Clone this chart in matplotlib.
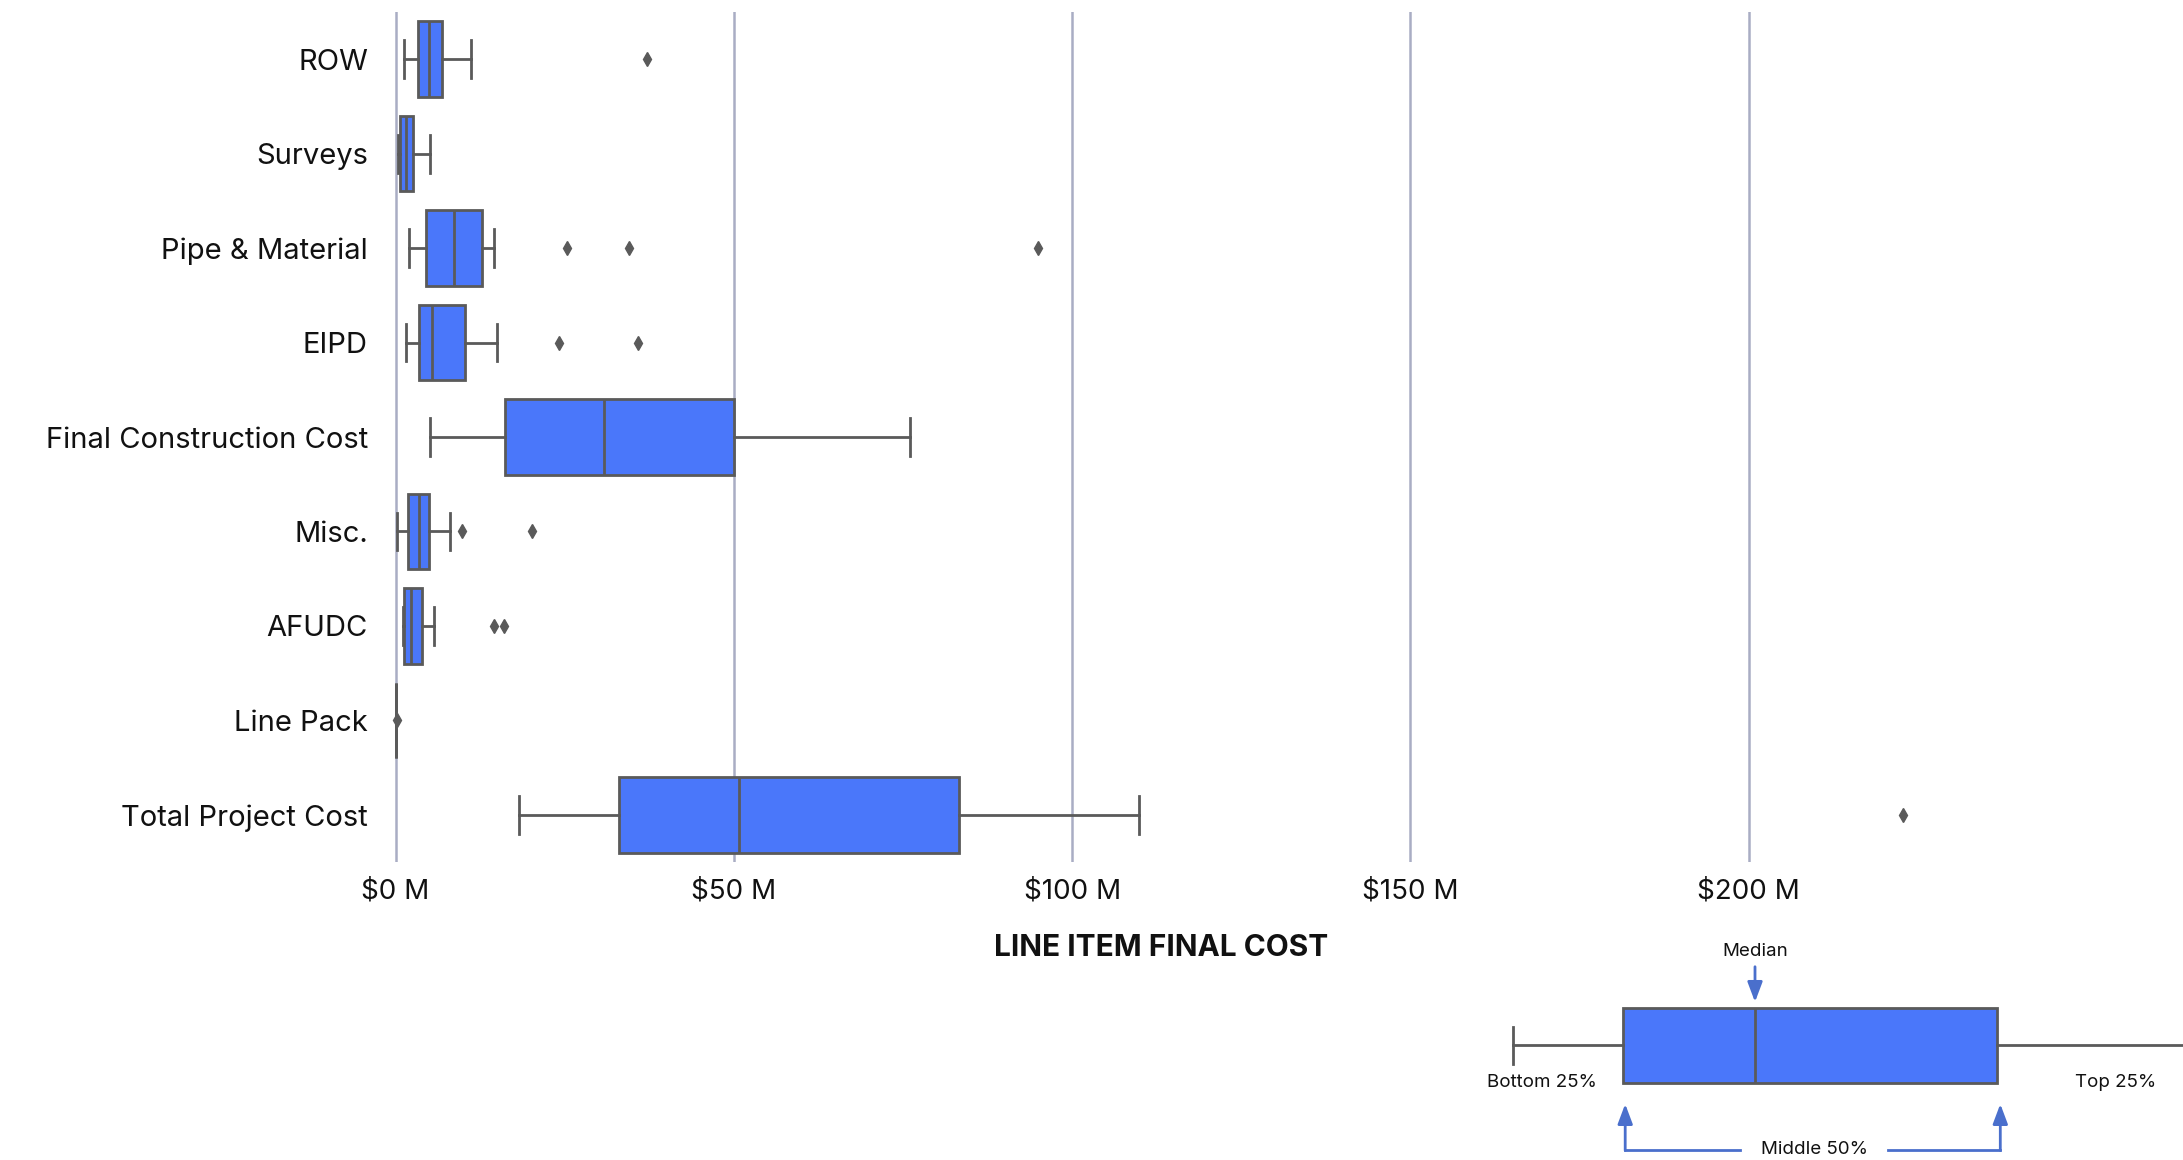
import matplotlib
matplotlib.use("Agg")
import matplotlib.pyplot as plt

plt.rcParams['font.family'] = ['Inter', 'DejaVu Sans']

# ---- data (values in $ millions) ----
categories = ["ROW", "Surveys", "Pipe & Material", "EIPD", "Final Construction Cost",
              "Misc.", "AFUDC", "Line Pack", "Total Project Cost"]
whisker_low = [1.3, 0.3, 2.0, 1.6, 5.1, 0.15, 1.05, 0.0, 18.3]
q1_values = [3.3, 0.6, 4.5, 3.4, 16.2, 1.8, 1.3, 0.0, 33.1]
median_values = [4.9, 1.6, 8.6, 5.4, 30.8, 3.4, 2.3, 0.0, 50.8]
q3_values = [6.9, 2.6, 12.8, 10.2, 50.0, 5.0, 3.9, 0.0, 83.3]
whisker_high = [11.1, 5.1, 14.6, 15.0, 76.1, 8.0, 5.7, 0.0, 109.9]
outliers = [[37.2], [], [25.3, 34.5, 94.9], [24.1, 35.8], [], [9.9, 20.2],
            [14.5, 16.0], [0.15], [222.8]]
tick_values = [0, 50, 100, 150, 200]
tick_labels = ["$0 M", "$50 M", "$100 M", "$150 M", "$200 M"]
x_label = "LINE ITEM FINAL COST"

# legend example box (arbitrary units)
legend_example = dict(whislo=0.0, q1=1.0, med=2.2, q3=4.4, whishi=7.0, fliers=[])

BOX_BLUE = "#4a77fa"
LINE_GRAY = "#5a5a5a"
GRID = "#a9adc4"
ARROW_BLUE = "#4a6fcc"
TEXT = "#111111"

W, H = 2183, 1160
fig = plt.figure(figsize=(W / 100, H / 100), dpi=100)

xmin, xmax = -1.2, 227.5
x_left = 395.5 + xmin * 6.766
x_right = 395.5 + xmax * 6.766
ax = fig.add_axes([x_left / W, 1 - 862 / H, (x_right - x_left) / W, (862 - 12) / H])

stats = []
for i, name in enumerate(categories):
    stats.append(dict(label=name, whislo=whisker_low[i], q1=q1_values[i], med=median_values[i],
                      q3=q3_values[i], whishi=whisker_high[i], fliers=outliers[i]))

box_kw = dict(
    boxprops=dict(facecolor=BOX_BLUE, edgecolor=LINE_GRAY, linewidth=2),
    medianprops=dict(color=LINE_GRAY, linewidth=2),
    whiskerprops=dict(color=LINE_GRAY, linewidth=2),
    capprops=dict(color=LINE_GRAY, linewidth=2),
    flierprops=dict(marker="d", markerfacecolor=LINE_GRAY, markeredgecolor=LINE_GRAY,
                    markersize=7),
)

positions = list(range(len(categories)))
ax.bxp(stats, positions=positions, vert=False, widths=0.8, capwidths=0.4,
       patch_artist=True, zorder=3, **box_kw)

ax.set_xlim(xmin, xmax)
ax.set_ylim(len(categories) - 0.5, -0.5)
ax.set_yticks(positions)
ax.set_yticklabels(categories, fontsize=21, color=TEXT)
ax.set_xticks(tick_values)
ax.set_xticklabels(tick_labels, fontsize=20, color=TEXT)
ax.tick_params(axis="both", length=0)
ax.tick_params(axis="y", pad=14)
ax.tick_params(axis="x", pad=12)
for s in ax.spines.values():
    s.set_visible(False)
ax.grid(axis="x", color=GRID, linewidth=1.8, zorder=0)
ax.set_axisbelow(True)
ax.set_xlabel(x_label, fontsize=21.5, fontweight="bold", color=TEXT, labelpad=21)

# ---- legend inset ----
lx0, lx1 = 1450, 2183
ly0, ly1 = 930, 1160
lax = fig.add_axes([lx0 / W, 1 - ly1 / H, (lx1 - lx0) / W, (ly1 - ly0) / H])
unit = 110.0
lax.set_xlim((lx0 - 1513) / unit, (lx1 - 1513) / unit)
lax.set_ylim(-1.527, 1.54)
lax.axis("off")
lax.bxp([legend_example], positions=[0], vert=False, widths=1.0, capwidths=0.5,
        patch_artist=True, showfliers=False, **box_kw)

e = legend_example
tfs = 13.5
arrow_style = "-|>,head_length=1.2,head_width=0.45"
lax.text(e["med"], 1.25, "Median", ha="center", va="center", fontsize=tfs, color=TEXT)
lax.annotate("", xy=(e["med"], 0.58), xytext=(e["med"], 1.05),
             arrowprops=dict(arrowstyle=arrow_style, color=ARROW_BLUE, lw=2,
                             shrinkA=0, shrinkB=0))
lax.text(e["whislo"] + 0.26, -0.5, "Bottom 25%", ha="center", va="center", fontsize=tfs,
         color=TEXT)
lax.text(5.48, -0.5, "Top 25%", ha="center", va="center", fontsize=tfs, color=TEXT)
mid_x = (e["q1"] + e["q3"]) / 2 + 0.04
lax.text(mid_x, -1.39, "Middle 50%", ha="center", va="center", fontsize=tfs, color=TEXT)
for xq, xend in [(e["q1"] + 0.02, mid_x - 0.68), (e["q3"] + 0.03, mid_x + 0.67)]:
    lax.plot([xend, xq], [-1.39, -1.39], color=ARROW_BLUE, lw=2)
    lax.annotate("", xy=(xq, -0.78), xytext=(xq, -1.4),
                 arrowprops=dict(arrowstyle=arrow_style, color=ARROW_BLUE, lw=2,
                                 shrinkA=0, shrinkB=0))

fig.savefig("out.png", dpi=100, facecolor="white")
